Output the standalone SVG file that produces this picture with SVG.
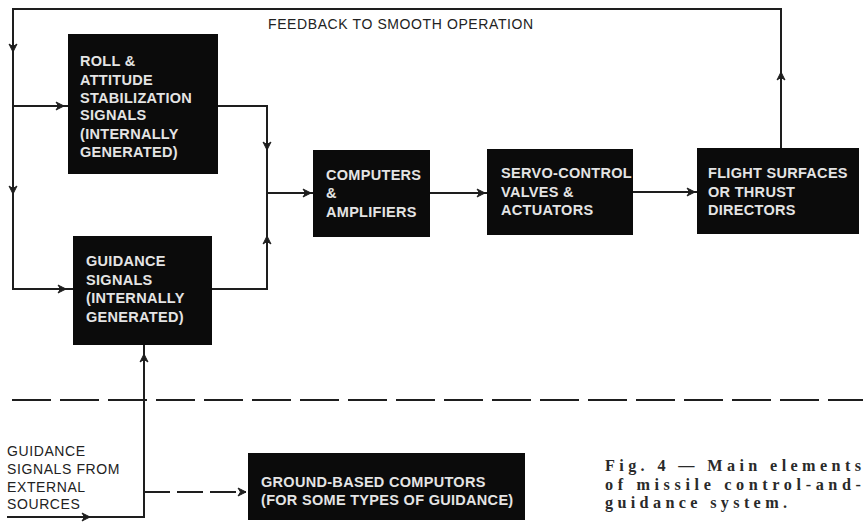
<svg xmlns="http://www.w3.org/2000/svg" xmlns:xlink="http://www.w3.org/1999/xlink" width="863" height="524" viewBox="0 0 863 524">
<style>
.bg{fill:#ffffff}
.box{fill:#0b0b0b}
.bt{font-family:"Liberation Sans",Arial,sans-serif;font-weight:bold;font-size:14.5px;letter-spacing:0.3px;fill:#e4e4e4}
.lbl{font-family:"Liberation Sans",Arial,sans-serif;font-size:14px;letter-spacing:0.6px;fill:#222}
.cap{font-family:"Liberation Serif","Times New Roman",serif;font-weight:bold;font-size:16.2px;fill:#2a2a2a}
.ln{fill:none;stroke:#1e1e1e;stroke-width:2}
.dash{fill:none;stroke:#1e1e1e;stroke-width:2.2;stroke-dasharray:39 9}
.dash2{fill:none;stroke:#1e1e1e;stroke-width:2;stroke-dasharray:26 7}
.ah{fill:#1e1e1e;stroke:#1e1e1e;stroke-width:1}
</style>
<defs>
<path id="ah" d="M-8,-4 L0,0 L-8,4 L-5.5,0 Z"/>
</defs>
<rect class="bg" x="0" y="0" width="863" height="524"/>

<g id="connectors">
  <path class="ln" d="M781,148 V9 H13 V289 H73"/>
  <path class="ln" d="M13,106 H68"/>
  <path class="ln" d="M218,106 H267 V289 H212"/>
  <path class="ln" d="M267,193 H313"/>
  <path class="ln" d="M430,193 H487"/>
  <path class="ln" d="M633,192 H697"/>
  <path class="ln" d="M7,517 H144 V345"/>
  <path class="dash2" d="M144,492 H246"/>
  <path class="dash" d="M12,400 H863"/>
  <use xlink:href="#ah" class="ah" transform="translate(781,72) rotate(-90)"/>
  <use xlink:href="#ah" class="ah" transform="translate(13,52) rotate(90)"/>
  <use xlink:href="#ah" class="ah" transform="translate(13,194) rotate(90)"/>
  <use xlink:href="#ah" class="ah" transform="translate(64,106)"/>
  <use xlink:href="#ah" class="ah" transform="translate(66,289)"/>
  <use xlink:href="#ah" class="ah" transform="translate(267,150) rotate(90)"/>
  <use xlink:href="#ah" class="ah" transform="translate(267,236) rotate(-90)"/>
  <use xlink:href="#ah" class="ah" transform="translate(311,193)"/>
  <use xlink:href="#ah" class="ah" transform="translate(485,193)"/>
  <use xlink:href="#ah" class="ah" transform="translate(695,192)"/>
  <use xlink:href="#ah" class="ah" transform="translate(90,517)"/>
  <use xlink:href="#ah" class="ah" transform="translate(144,354) rotate(-90)"/>
  <use xlink:href="#ah" class="ah" transform="translate(246,492)"/>
</g>

<text class="lbl" x="268" y="29">FEEDBACK TO SMOOTH OPERATION</text>

<g id="roll">
  <rect class="box" x="68" y="34" width="150" height="140"/>
  <text class="bt" x="80" y="66">ROLL &amp;</text>
  <text class="bt" x="80" y="84.5">ATTITUDE</text>
  <text class="bt" x="80" y="103">STABILIZATION</text>
  <text class="bt" x="80" y="120">SIGNALS</text>
  <text class="bt" x="80" y="139">(INTERNALLY</text>
  <text class="bt" x="80" y="157">GENERATED)</text>
</g>

<g id="guidance">
  <rect class="box" x="73" y="236" width="139" height="109"/>
  <text class="bt" x="86" y="266">GUIDANCE</text>
  <text class="bt" x="86" y="285">SIGNALS</text>
  <text class="bt" x="86" y="303">(INTERNALLY</text>
  <text class="bt" x="86" y="322">GENERATED)</text>
</g>

<g id="computers">
  <rect class="box" x="313" y="150" width="117" height="87"/>
  <text class="bt" x="326" y="180">COMPUTERS</text>
  <text class="bt" x="326" y="198">&amp;</text>
  <text class="bt" x="326" y="217">AMPLIFIERS</text>
</g>

<g id="servo">
  <rect class="box" x="487" y="149" width="146" height="86"/>
  <text class="bt" x="501" y="178">SERVO-CONTROL</text>
  <text class="bt" x="501" y="197">VALVES &amp;</text>
  <text class="bt" x="501" y="215">ACTUATORS</text>
</g>

<g id="flight">
  <rect class="box" x="697" y="148" width="162" height="86"/>
  <text class="bt" x="708" y="178">FLIGHT SURFACES</text>
  <text class="bt" x="708" y="197">OR THRUST</text>
  <text class="bt" x="708" y="215">DIRECTORS</text>
</g>

<g id="ground">
  <rect class="box" x="248" y="453" width="277" height="67"/>
  <text class="bt" x="261" y="487">GROUND-BASED COMPUTORS</text>
  <text class="bt" x="261" y="505">(FOR SOME TYPES OF GUIDANCE)</text>
</g>

<g id="external">
  <text class="lbl" x="7" y="456">GUIDANCE</text>
  <text class="lbl" x="7" y="474">SIGNALS FROM</text>
  <text class="lbl" x="7" y="492">EXTERNAL</text>
  <text class="lbl" x="7" y="509">SOURCES</text>
</g>

<g id="caption">
  <text class="cap" x="605" y="471" textLength="256" lengthAdjust="spacing">Fig. 4 — Main elements</text>
  <text class="cap" x="605" y="489.5" textLength="256" lengthAdjust="spacing">of missile control-and-</text>
  <text class="cap" x="605" y="508" textLength="182" lengthAdjust="spacing">guidance system.</text>
</g>
</svg>
